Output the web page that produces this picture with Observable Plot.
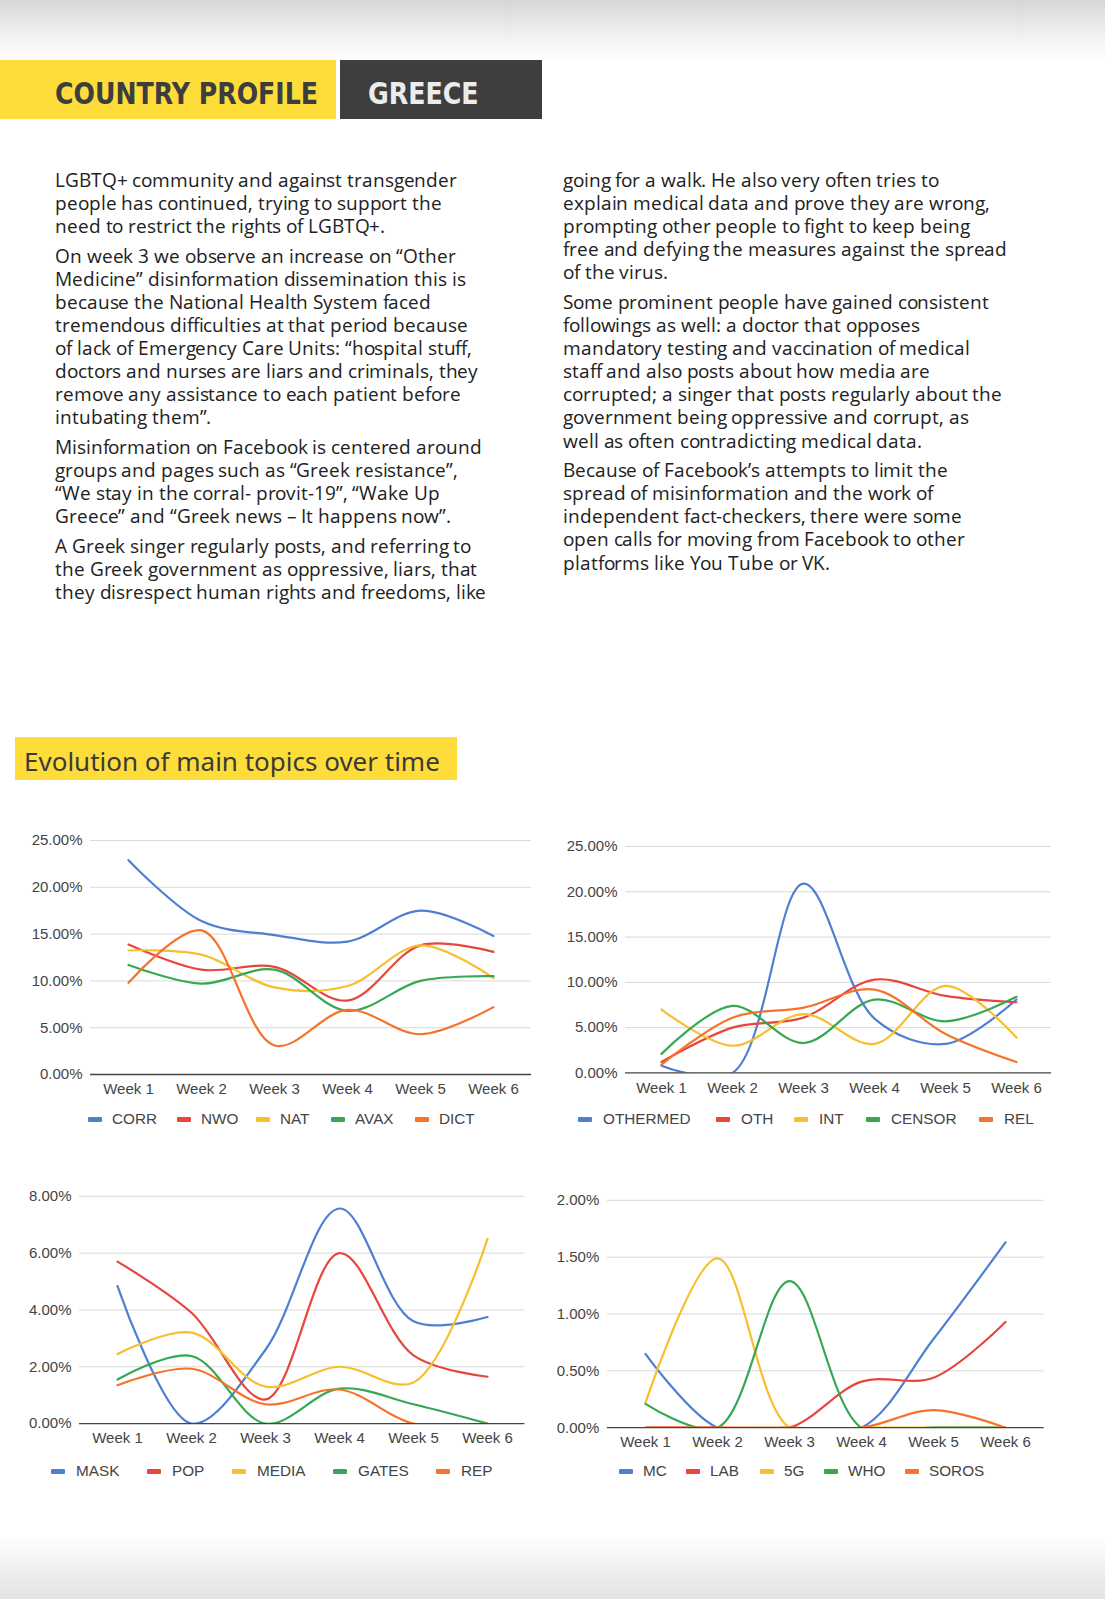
<!DOCTYPE html>
<html>
<head>
<meta charset="utf-8">
<script src="https://cdn.jsdelivr.net/npm/d3@7"></script>
<script src="https://cdn.jsdelivr.net/npm/@observablehq/plot@0.6"></script>
<style>
  @font-face {
    font-family: "OSTight";
    src: local("Open Sans"), local("Open Sans Regular"), local("OpenSans-Regular");
    ascent-override: 99%;
    descent-override: 20.4%;
    line-gap-override: 0%;
  }
  html, body { margin: 0; padding: 0; }
  body {
    width: 1105px; height: 1599px; position: relative; overflow: hidden;
    background: linear-gradient(to bottom, #d6d6d6 0px, #f4f4f4 40px, #ffffff 64px, #ffffff 1535px, #f2f2f2 1565px, #e2e2e2 1599px);
    font-family: "OSTight", "Open Sans", "Noto Sans", sans-serif;
  }
  .abs { position: absolute; }
  .hdr1 { left: 0; top: 60px; width: 336px; height: 59px; background: #fedd3b; }
  .hdr2 { left: 340px; top: 60px; width: 202px; height: 59px; background: #3e3e3e; }
  .hdrtxt { font-family: "DejaVu Sans Condensed", "Liberation Sans Narrow", sans-serif; font-weight: bold; font-size: 30px; line-height: 58px; white-space: nowrap; transform-origin: left center; }
  .col { font-size: 19px; line-height: 23.1px; letter-spacing: -0.1px; color: #222; white-space: nowrap; }
  .col p { margin: 0 0 6.5px 0; }
  .sect { left: 15px; top: 737px; width: 442px; height: 43px; background: #fedd3b; }
  .secttxt { left: 24px; top: 739px; font-family: "Noto Sans", sans-serif; font-size: 26px; line-height: 44px; color: #3a3a3a; white-space: nowrap; }
  .legend { font-family: "Liberation Sans", Arial, sans-serif; font-size: 15.3px; color: #444; height: 20px; }
  .legend .item { position: absolute; top: 0; line-height: 20px; white-space: nowrap; }
  .legend .dash { position: absolute; top: 7.5px; width: 14px; height: 5px; border-radius: 1px; }
  svg { overflow: visible; }
</style>
</head>
<body>
<div class="abs hdr1"></div>
<div class="abs hdr2"></div>
<div class="abs hdrtxt" style="left:55px; top:65px; color:#3d3d3d; transform:scaleX(0.935)">COUNTRY PROFILE</div>
<div class="abs hdrtxt" style="left:368px; top:65px; color:#ececec; transform:scaleX(0.937)">GREECE</div>

<div class="abs col" style="left:55px; top:168px;">
<p>LGBTQ+ community and against transgender<br>people has continued, trying to support the<br>need to restrict the rights of LGBTQ+.</p>
<p>On week 3 we observe an increase on “Other<br>Medicine” disinformation dissemination this is<br>because the National Health System faced<br>tremendous difficulties at that period because<br>of lack of Emergency Care Units: “hospital stuff,<br>doctors and nurses are liars and criminals, they<br>remove any assistance to each patient before<br>intubating them”.</p>
<p>Misinformation on Facebook is centered around<br>groups and pages such as “Greek resistance”,<br>“We stay in the corral- provit-19”, “Wake Up<br>Greece” and “Greek news – It happens now”.</p>
<p>A Greek singer regularly posts, and referring to<br>the Greek government as oppressive, liars, that<br>they disrespect human rights and freedoms, like</p>
</div>

<div class="abs col" style="left:563px; top:168px;">
<p>going for a walk. He also very often tries to<br>explain medical data and prove they are wrong,<br>prompting other people to fight to keep being<br>free and defying the measures against the spread<br>of the virus.</p>
<p>Some prominent people have gained consistent<br>followings as well: a doctor that opposes<br>mandatory testing and vaccination of medical<br>staff and also posts about how media are<br>corrupted; a singer that posts regularly about the<br>government being oppressive and corrupt, as<br>well as often contradicting medical data.</p>
<p>Because of Facebook’s attempts to limit the<br>spread of misinformation and the work of<br>independent fact-checkers, there were some<br>open calls for moving from Facebook to other<br>platforms like You Tube or VK.</p>
</div>

<div class="abs sect"></div>
<div class="abs secttxt">Evolution of main topics over time</div>

<div id="charts"></div>

<script>
// ---------- data ----------
const weeks = ["Week 1", "Week 2", "Week 3", "Week 4", "Week 5", "Week 6"];
const colors = ["#4f7fd3", "#e8453c", "#f7bf2e", "#35a853", "#f6732b"];

// Chart 1
const names1 = ["CORR", "NWO", "NAT", "AVAX", "DICT"];
const corr  = [22.9, 16.4, 14.9, 14.2, 17.5, 14.8];
const nwo   = [13.9, 11.2, 11.5, 7.9, 13.8, 13.1];
const nat   = [13.25, 12.8, 9.3, 9.45, 13.8, 10.3];
const avax  = [11.7, 9.7, 11.2, 6.8, 10.0, 10.5];
const dict  = [9.8, 15.4, 3.1, 6.9, 4.3, 7.2];

// Chart 2
const names2 = ["OTHERMED", "OTH", "INT", "CENSOR", "REL"];
const othermed = [0.8, 0.0, 20.9, 6.0, 3.2, 8.1];
const oth      = [1.2, 5.0, 6.1, 10.3, 8.5, 7.8];
const intl     = [7.0, 3.0, 6.5, 3.2, 9.6, 3.9];
const censor   = [2.1, 7.4, 3.3, 8.1, 5.7, 8.4];
const rel      = [0.9, 6.1, 7.2, 9.2, 4.3, 1.2];

// Chart 3
const names3 = ["MASK", "POP", "MEDIA", "GATES", "REP"];
const mask  = [4.84, 0.0, 2.6, 7.57, 3.6, 3.75];
const pop   = [5.7, 3.9, 0.85, 6.0, 2.4, 1.65];
const media = [2.45, 3.2, 1.3, 2.0, 1.45, 6.5];
const gates = [1.55, 2.38, 0.0, 1.23, 0.68, 0.0];
const rep   = [1.35, 1.93, 0.68, 1.2, 0.0, 0.0];

// Chart 4
const names4 = ["MC", "LAB", "5G", "WHO", "SOROS"];
const mc    = [0.65, 0.0, 0.0, 0.0, 0.78, 1.63];
const lab   = [0.0, 0.0, 0.0, 0.405, 0.44, 0.93];
const g5    = [0.22, 1.49, 0.0, 0.0, 0.0, 0.0];
const who   = [0.21, 0.0, 1.29, 0.0, 0.0, 0.0];
const soros = [0.0, 0.0, 0.0, 0.0, 0.155, 0.0];

const yTicks1 = [0, 5, 10, 15, 20, 25];
const yTicks2 = [0, 5, 10, 15, 20, 25];
const yTicks3 = [0, 2, 4, 6, 8];
const yTicks4 = [0, 0.5, 1, 1.5, 2];

// ---------- build ----------
function table(names, series) {
  const rows = [];
  names.forEach((n, i) => series[i].forEach((v, j) => rows.push({series: n, week: weeks[j], value: v})));
  return rows;
}

const chartSpecs = [
  {names: names1, series: [corr, nwo, nat, avax, dict], ticks: yTicks1,
   left: 0, top: 815, width: 551, height: 295, m: {l: 90, r: 20, t: 25, b: 36},
   legendTop: 1109, legendX: [88, 177, 256, 331, 415], textOff: 24},
  {names: names2, series: [othermed, oth, intl, censor, rel], ticks: yTicks2,
   left: 545, top: 815, width: 520, height: 295, m: {l: 80, r: 14, t: 31, b: 37.6},
   legendTop: 1109, legendX: [578, 716, 794, 866, 979], textOff: 25},
  {names: names3, series: [mask, pop, media, gates, rep], ticks: yTicks3,
   left: 0, top: 1170, width: 545, height: 290, m: {l: 79, r: 20.6, t: 25.8, b: 36.9},
   legendTop: 1461, legendX: [51, 147, 232, 333, 436], textOff: 25},
  {names: names4, series: [mc, lab, g5, who, soros], ticks: yTicks4,
   left: 540, top: 1170, width: 520, height: 290, m: {l: 66.8, r: 16.4, t: 29.8, b: 32.8},
   legendTop: 1461, legendX: [619, 686, 760, 824, 905], textOff: 24}
];

const container = document.getElementById("charts");
chartSpecs.forEach(spec => {
  const data = table(spec.names, spec.series);
  const ymax = spec.ticks[spec.ticks.length - 1];
  const fmt = d => d.toFixed(2) + "%";
  const plot = Plot.plot({
    width: spec.width,
    height: spec.height,
    marginLeft: spec.m.l, marginRight: spec.m.r, marginTop: spec.m.t, marginBottom: spec.m.b,
    style: {fontFamily: "'Liberation Sans', Arial, sans-serif", fontSize: "15px", color: "#444", background: "transparent"},
    x: {type: "point", domain: weeks, padding: 0.5, label: null},
    y: {domain: [0, ymax], label: null},
    color: {domain: spec.names, range: colors},
    marks: [
      Plot.ruleY(spec.ticks.filter(t => t > 0), {stroke: "#d9d9d9", strokeWidth: 1}),
      Plot.axisY({ticks: spec.ticks, tickFormat: fmt, tickSize: 0, tickPadding: 8, fontSize: 15, label: null}),
      Plot.axisX({tickSize: 0, tickPadding: 9, fontSize: 15, label: null}),
      Plot.line(data, {x: "week", y: "value", z: "series", stroke: "series", curve: "catmull-rom", strokeWidth: 2.2, clip: true}),
      Plot.ruleY([0], {stroke: "#444", strokeWidth: 1.3})
    ]
  });
  plot.style.position = "absolute";
  plot.style.left = spec.left + "px";
  plot.style.top = spec.top + "px";
  container.appendChild(plot);

  const leg = document.createElement("div");
  leg.className = "abs legend";
  leg.style.left = "0px";
  leg.style.top = spec.legendTop + "px";
  leg.style.width = "1105px";
  spec.names.forEach((n, i) => {
    const d = document.createElement("div");
    d.className = "dash";
    d.style.left = spec.legendX[i] + "px";
    d.style.background = colors[i];
    leg.appendChild(d);
    const t = document.createElement("div");
    t.className = "item";
    t.style.left = (spec.legendX[i] + spec.textOff) + "px";
    t.textContent = n;
    leg.appendChild(t);
  });
  container.appendChild(leg);
});
</script>
</body>
</html>
